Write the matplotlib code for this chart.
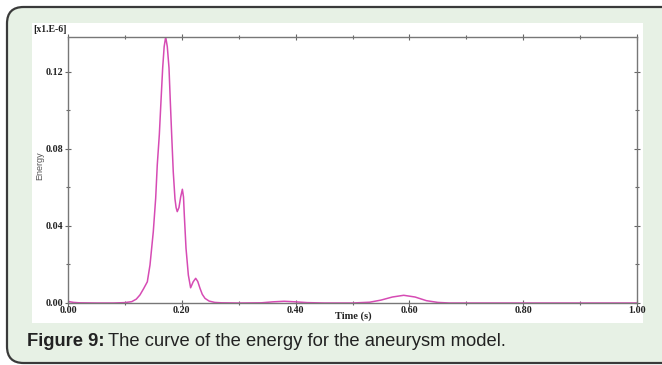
import matplotlib
matplotlib.use("Agg")
import matplotlib.pyplot as plt
from matplotlib.patches import FancyBboxPatch, Rectangle
from matplotlib.ticker import MultipleLocator, FixedLocator

# ---- data ----
time_s = [0.000, 0.010, 0.020, 0.050, 0.080, 0.100, 0.112, 0.120, 0.1265,
          0.133, 0.1394, 0.1441, 0.1499, 0.1541, 0.1569, 0.1605, 0.1634,
          0.1664, 0.1690, 0.1717, 0.1745, 0.1775, 0.1798, 0.1822, 0.1850,
          0.1880, 0.1900, 0.1920, 0.1950, 0.1980, 0.2010, 0.2030, 0.2044,
          0.2074, 0.2115, 0.2155, 0.2200, 0.2244, 0.2280, 0.2320, 0.2360,
          0.2408, 0.2480, 0.2580, 0.2700, 0.3000, 0.3400, 0.3600, 0.3800,
          0.4000, 0.4200, 0.4500, 0.5000, 0.5300, 0.5500, 0.5700, 0.5900,
          0.6100, 0.6300, 0.6500, 0.6700, 0.7500, 0.8500, 1.0000]
energy = [0.0008, 0.0003, 0.0001, 0.0000, 0.0000, 0.0002, 0.0007, 0.0020,
          0.0042, 0.0075, 0.0110, 0.0197, 0.0370, 0.0544, 0.0717, 0.0873,
          0.1046, 0.1220, 0.1330, 0.1380, 0.1330, 0.1220, 0.1046, 0.0873,
          0.0680, 0.0540, 0.0495, 0.0474, 0.0495, 0.0550, 0.0590, 0.0550,
          0.0457, 0.0284, 0.0145, 0.0079, 0.0110, 0.0128, 0.0112, 0.0076,
          0.0045, 0.0024, 0.0010, 0.0003, 0.0001, 0.0000, 0.0001, 0.0006,
          0.0009, 0.0006, 0.0002, 0.0000, 0.0000, 0.0004, 0.0015, 0.0031,
          0.0040, 0.0031, 0.0012, 0.0003, 0.0000, 0.0000, 0.0000, 0.0000]

x_major = [0.00, 0.20, 0.40, 0.60, 0.80, 1.00]
x_major_labels = ["0.00", "0.20", "0.40", "0.60", "0.80", "1.00"]
y_major = [0.00, 0.04, 0.08, 0.12]
y_major_labels = ["0.00", "0.04", "0.08", "0.12"]

W, H = 662, 365
fig = plt.figure(figsize=(W / 100, H / 100), dpi=100)
fig.patch.set_facecolor("white")

def fx(px):
    return px / W

def fy(py):
    return 1 - py / H

# outer rounded green box
box = FancyBboxPatch((fx(7), fy(363)), fx(700) - fx(7), fy(7) - fy(363),
                     boxstyle="round,pad=0,rounding_size=0.025",
                     transform=fig.transFigure, facecolor="#e7f1e5",
                     edgecolor="#3a3a3a", linewidth=1.6, zorder=-2,
                     mutation_aspect=W / H)
fig.patches.append(box)
# white panel
panel = Rectangle((fx(32), fy(323)), fx(643) - fx(32), fy(23) - fy(323),
                  transform=fig.transFigure, facecolor="white",
                  edgecolor="none", zorder=-1)
fig.patches.append(panel)

ax = fig.add_axes([fx(68), fy(303), fx(637) - fx(68), fy(37) - fy(303)])
ax.set_zorder(1)
ax.set_facecolor("white")
ax.plot(time_s, energy, color="#d64bb4", linewidth=1.1,
        solid_joinstyle="round")
ax.set_xlim(0, 1.0)
ax.set_ylim(0, 0.138)

serif_bold = dict(family="Liberation Serif", weight="bold", size=7.2, color="#222222")

ax.xaxis.set_major_locator(FixedLocator(x_major))
ax.set_xticklabels(x_major_labels, fontdict=serif_bold)
ax.xaxis.set_minor_locator(MultipleLocator(0.1))
ax.yaxis.set_major_locator(FixedLocator(y_major))
ax.set_yticklabels(y_major_labels, fontdict=serif_bold)
ax.yaxis.set_minor_locator(MultipleLocator(0.02))

ax.tick_params(axis="both", which="both", direction="inout", color="#666666",
               top=True, right=True, width=0.8)
ax.tick_params(axis="both", which="major", length=5)
ax.tick_params(axis="both", which="minor", length=3)
ax.tick_params(axis="x", which="major", pad=0)
ax.tick_params(axis="y", which="major", pad=1)

for s in ax.spines.values():
    s.set_color("#777777")
    s.set_linewidth(1.0)

fig.text(fx(353), fy(316), "Time (s)", ha="center", va="center",
         family="Liberation Serif", weight="bold", size=7.5, color="#222222")
fig.text(fx(40), fy(166), "Energy", ha="center", va="center", rotation=90,
         family="Liberation Sans", size=6.5, color="#555555")
fig.text(fx(33), fy(30), "[x1.E-6]", ha="left", va="center",
         family="Liberation Serif", weight="bold", size=7, color="#222222")

# caption
cap_y = fy(341)
t1 = fig.text(fx(27), cap_y, "Figure 9:", ha="left", va="center",
              family="Liberation Sans", weight="bold", size=13.2, color="#222222")
fig.canvas.draw()
bb = t1.get_window_extent(renderer=fig.canvas.get_renderer())
fig.text(bb.x1 / W + fx(4), cap_y, "The curve of the energy for the aneurysm model.",
         ha="left", va="center", family="Liberation Sans", size=13.2,
         color="#222222")

fig.savefig("out.png", dpi=100, facecolor=fig.get_facecolor())
